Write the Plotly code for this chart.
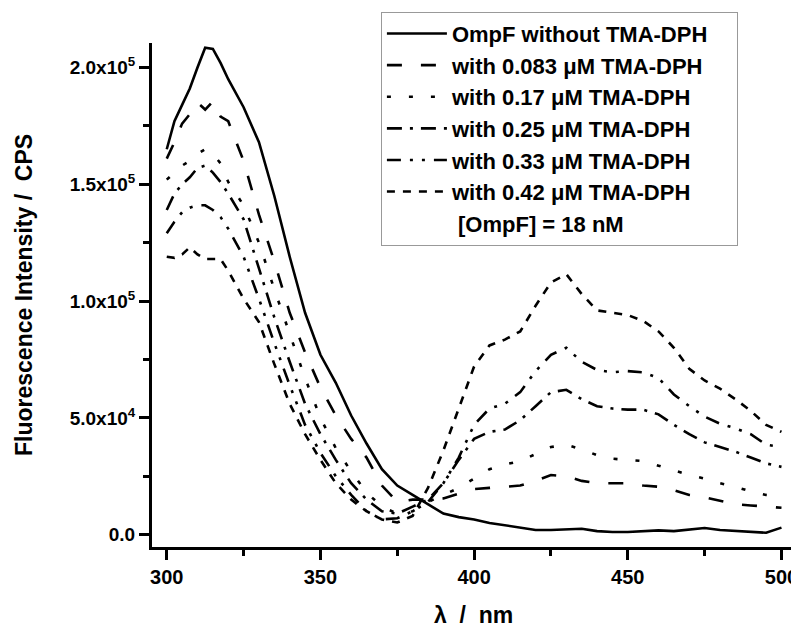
import plotly.graph_objects as go

# wavelength grid (nm)
wavelength = [300, 302.5, 305, 307.5, 310, 312.5, 315, 317.5, 320,
              325, 330, 335, 340, 345, 350, 355, 360, 365, 370, 375,
              380, 385, 390, 395, 400, 405, 410, 415, 420, 425, 430,
              435, 440, 445, 450, 455, 460, 465, 470, 475, 480, 485,
              490, 495, 500]

# intensities in units of 1e3 CPS
ompf_only = [165, 177, 184, 191, 200, 208.5, 208, 202, 195,
             183, 168, 145, 119, 95, 77, 65, 51, 39, 28, 21,
             17, 13, 9, 7.5, 6.5, 5, 4, 3, 2, 2, 2.3,
             2.5, 1.5, 1.1, 1.1, 1.3, 1.8, 1.5, 2.3, 2.8, 2, 1.5,
             1.2, 0.8, 3]
tma_0083 = [161, 168, 176, 180, 185, 182, 185.5, 179, 177,
            160, 137, 117, 95, 78, 63, 51, 41, 33, 21, 14,
            15, 15, 15.5, 17.5, 19.5, 20, 20.5, 21, 23, 25.5, 25,
            23, 22, 22, 22, 21, 20.5, 19, 17, 16, 14.5, 13,
            12.5, 12, 11.5]
tma_017 = [152, 155, 158, 160, 163, 165, 163, 159, 151,
           141, 125, 105, 86, 67, 50, 37, 27, 18, 12, 9,
           10, 14, 17, 20, 24, 28, 30, 31.5, 34.5, 37.5, 38.5,
           36.5, 34, 32.5, 32, 31.5, 29.5, 27.5, 25.5, 24, 22, 20.5,
           18.5, 17, 16.5]
tma_025 = [139, 146, 150, 153, 157, 158, 155, 151, 146,
           135, 114, 93, 74, 56, 43, 32, 22, 15, 10, 9,
           12, 15, 22, 32, 41, 44, 45, 49, 55, 61, 62,
           58, 55, 54, 53.5, 53.5, 51.5, 47, 43, 39.5, 37.5, 35.5,
           33, 30.5, 29]
tma_033 = [129, 134, 138, 140, 141, 141, 139, 136, 131,
           119, 101, 82, 64, 47, 35, 25, 17, 10, 6.5, 7,
           10, 14, 22, 33, 47, 54, 56, 61, 70, 77, 80,
           74, 70.5, 69.5, 70, 69.5, 67, 60, 55, 50.5, 47.5, 45.5,
           43, 38.5, 37.5]
tma_042 = [119, 118.5, 120, 123, 120, 118, 118, 118, 113,
           101, 91, 73, 56, 43, 32, 22, 15, 10, 6.5, 5.2,
           8, 20, 36, 54, 72, 81, 83.5, 87, 98, 108, 111.5,
           103, 96, 95, 94, 91.5, 87, 80, 71, 66, 62.5, 58,
           53, 47, 44]

names = ["OmpF without TMA-DPH&nbsp;&nbsp;&nbsp;&nbsp;",
         "with 0.083 \u03bcM TMA-DPH",
         "with 0.17 \u03bcM TMA-DPH",
         "with 0.25 \u03bcM TMA-DPH",
         "with 0.33 \u03bcM TMA-DPH",
         "with 0.42 \u03bcM TMA-DPH"]
series = [ompf_only, tma_0083, tma_017, tma_025, tma_033, tma_042]
dashes = ["solid", "15px,19px", "4px,18px", "15px,8px,3px,8px",
          "14px,9px,3px,9px,3px,9px", "8px,8px"]

y_ticks = [0, 50000, 100000, 150000, 200000]
y_ticktext = ["0.0", "5.0x10<sup>4</sup>", "1.0x10<sup>5</sup>",
              "1.5x10<sup>5</sup>", "2.0x10<sup>5</sup>"]

FONT = "Arial, Liberation Sans, sans-serif"

fig = go.Figure()
for name, vals, dash in zip(names, series, dashes):
    fig.add_trace(go.Scatter(x=wavelength, y=[v * 1000 for v in vals],
                             mode="lines", name=name,
                             line=dict(color="black", width=2.6, dash=dash)))

# text-only legend row
fig.add_trace(go.Scatter(x=[None], y=[None], mode="lines",
                         name="&nbsp;[OmpF] = 18 nM",
                         line=dict(color="rgba(0,0,0,0)", width=0)))

# page body has an 8px margin, so the figure is 8px smaller
fig.update_layout(
    width=791, height=619,
    margin=dict(l=144, r=4, t=19, b=80),
    plot_bgcolor="white", paper_bgcolor="white",
    font=dict(family=FONT, color="black"),
    showlegend=True,
    legend=dict(x=0.356, y=1.062, xanchor="left", yanchor="top",
                bgcolor="white", bordercolor="#999999", borderwidth=1,
                font=dict(size=22, weight="bold"), itemwidth=60,
                tracegroupgap=0),
    xaxis=dict(range=[295.2, 504.4], tick0=300, dtick=50, automargin=False,
               showline=True, linewidth=3, linecolor="black",
               ticks="outside", ticklen=10, tickwidth=2.5, tickcolor="black",
               showgrid=False, zeroline=False,
               tickfont=dict(size=20, weight="bold"),
               minor=dict(dtick=25, ticks="outside", ticklen=6,
                          tickwidth=2.5, tickcolor="black", showgrid=False)),
    yaxis=dict(range=[-5300, 210500], tickmode="array", tickvals=y_ticks,
               ticktext=y_ticktext, automargin=False,
               showline=True, linewidth=3, linecolor="black",
               ticks="outside", ticklen=10, tickwidth=2.5, tickcolor="black",
               showgrid=False, zeroline=False,
               tickfont=dict(size=19, weight="bold"),
               minor=dict(tickmode="array",
                          tickvals=[25000, 75000, 125000, 175000],
                          ticks="outside", ticklen=6, tickwidth=2.5,
                          tickcolor="black", showgrid=False)),
    annotations=[
        dict(text="\u03bb&nbsp; /&nbsp; nm", xref="paper", yref="paper",
             x=0.5, y=0, xanchor="center", yanchor="middle", yshift=-68,
             showarrow=False, font=dict(size=23, weight="bold")),
        dict(text="Fluorescence Intensity /&nbsp; CPS", xref="paper", yref="paper",
             x=0, y=0.5, xanchor="center", yanchor="middle", xshift=-128,
             textangle=-90, showarrow=False, font=dict(size=23, weight="bold")),
    ],
)

fig.write_html("out.html")
